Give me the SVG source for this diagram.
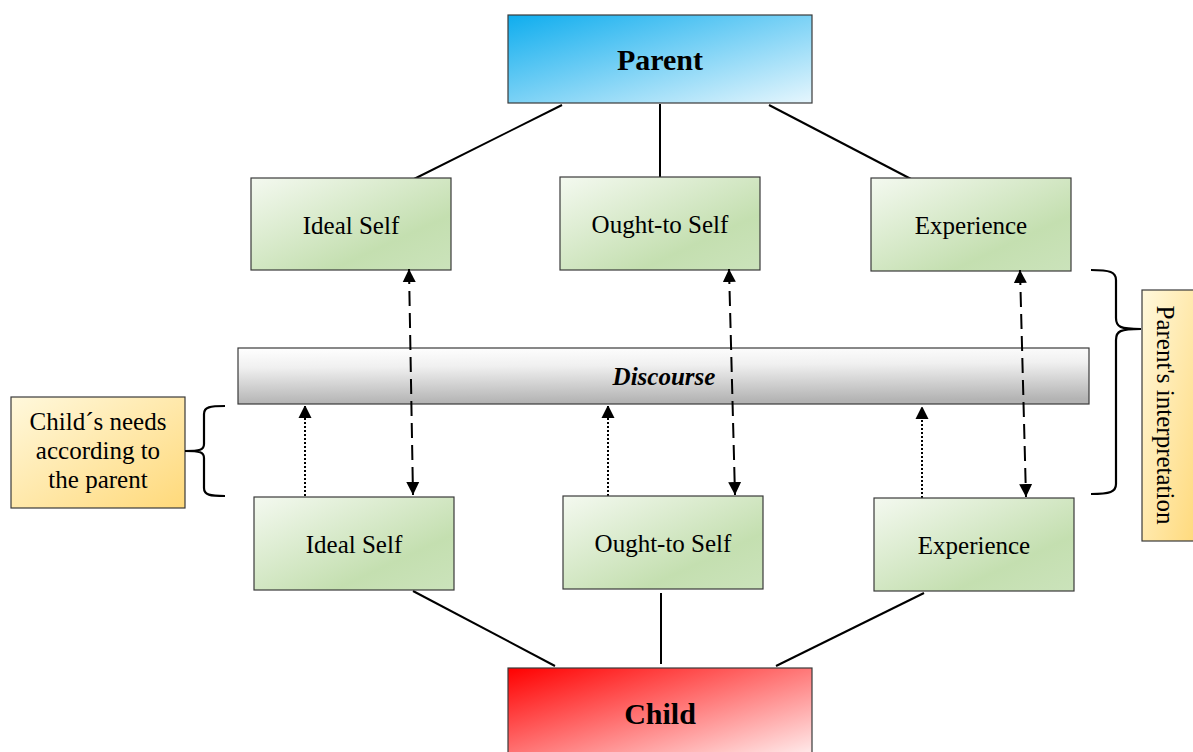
<svg xmlns="http://www.w3.org/2000/svg" width="1193" height="752" viewBox="0 0 1193 752">
<defs>
<linearGradient id="gBlue" x1="0" y1="0" x2="1" y2="1"><stop offset="0" stop-color="#0fadee"/><stop offset="1" stop-color="#e6f6fd"/></linearGradient>
<linearGradient id="gRed" x1="0" y1="0" x2="1" y2="1"><stop offset="0" stop-color="#ff0000"/><stop offset="1" stop-color="#fff0f0"/></linearGradient>
<linearGradient id="gGreen" x1="0" y1="0" x2="1" y2="1"><stop offset="0" stop-color="#f4f9f0"/><stop offset="0.7" stop-color="#c4dfb0"/><stop offset="1" stop-color="#cbe3bb"/></linearGradient>
<linearGradient id="gGray" x1="0" y1="0" x2="0.1" y2="1"><stop offset="0" stop-color="#ffffff"/><stop offset="0.35" stop-color="#f0f0f0"/><stop offset="1" stop-color="#b3b3b3"/></linearGradient>
<linearGradient id="gYellow" x1="0" y1="0" x2="1" y2="1"><stop offset="0" stop-color="#fff8dc"/><stop offset="1" stop-color="#ffd97a"/></linearGradient>
<marker id="arr" viewBox="0 0 12 14" refX="13" refY="7" markerWidth="12" markerHeight="14" markerUnits="userSpaceOnUse" orient="auto-start-reverse"><path d="M0,0.5 L13,7 L0,13.5 Z" fill="#000"/></marker>
</defs>
<style>
.box{stroke:#3a3a3a;stroke-width:1.2}
.t{font-family:"Liberation Serif","Times New Roman",serif;fill:#000;text-anchor:middle}
.g{font-size:25px}
.line{stroke:#000;stroke-width:2;fill:none}
.dash{stroke:#000;stroke-width:2;fill:none;stroke-dasharray:15,7}
.dot{stroke:#000;stroke-width:2;fill:none;stroke-dasharray:2,2}
.brace{stroke:#000;stroke-width:2.2;fill:none}
</style>
<rect width="1193" height="752" fill="#fff"/>
<g id="connectors">
<line class="line" x1="562" y1="105" x2="414" y2="179"/>
<line class="line" x1="660" y1="104" x2="660" y2="177"/>
<line class="line" x1="769" y1="105" x2="911" y2="179"/>
<line class="line" x1="413" y1="591" x2="555" y2="666"/>
<line class="line" x1="661" y1="593" x2="661" y2="664"/>
<line class="line" x1="924" y1="593" x2="776" y2="666"/>
<line class="dot" x1="305" y1="496" x2="305" y2="405" marker-end="url(#arr)"/>
<line class="dot" x1="608" y1="496" x2="608" y2="405" marker-end="url(#arr)"/>
<line class="dot" x1="922" y1="498" x2="922" y2="406" marker-end="url(#arr)"/>
</g>
<g id="parent"><rect class="box" x="508" y="15" width="304" height="88" fill="url(#gBlue)"/><text class="t" x="660" y="70" font-size="30" font-weight="bold">Parent</text></g>
<g id="p-ideal"><rect class="box" x="251" y="178" width="200" height="92" fill="url(#gGreen)"/><text class="t g" x="351" y="234">Ideal Self</text></g>
<g id="p-ought"><rect class="box" x="560" y="177" width="200" height="93" fill="url(#gGreen)"/><text class="t g" x="660" y="233">Ought-to Self</text></g>
<g id="p-exp"><rect class="box" x="871" y="178" width="200" height="93" fill="url(#gGreen)"/><text class="t g" x="971" y="234">Experience</text></g>
<g id="discourse"><rect class="box" x="238" y="348" width="851" height="56" fill="url(#gGray)"/><text class="t" x="664" y="385" font-size="25" font-weight="bold" font-style="italic">Discourse</text></g>
<g id="c-ideal"><rect class="box" x="254" y="497" width="200" height="93" fill="url(#gGreen)"/><text class="t g" x="354" y="553">Ideal Self</text></g>
<g id="c-ought"><rect class="box" x="563" y="496" width="200" height="93" fill="url(#gGreen)"/><text class="t g" x="663" y="552">Ought-to Self</text></g>
<g id="c-exp"><rect class="box" x="874" y="498" width="200" height="93" fill="url(#gGreen)"/><text class="t g" x="974" y="554">Experience</text></g>
<g id="child"><rect class="box" x="508" y="668" width="304" height="90" fill="url(#gRed)"/><text class="t" x="660" y="724" font-size="30" font-weight="bold">Child</text></g>
<g id="dashed-links">
<line class="dash" x1="409" y1="269" x2="413" y2="495" marker-start="url(#arr)" marker-end="url(#arr)"/>
<line class="dash" x1="729" y1="269" x2="735" y2="495" marker-start="url(#arr)" marker-end="url(#arr)"/>
<line class="dash" x1="1020" y1="270" x2="1026" y2="497" marker-start="url(#arr)" marker-end="url(#arr)"/>
</g>
<g id="needs"><rect class="box" x="11" y="397" width="174" height="111" fill="url(#gYellow)"/>
<text class="t g" x="98" y="430">Child´s needs</text><text class="t g" x="98" y="459">according to</text><text class="t g" x="98" y="488">the parent</text></g>
<g id="left-brace"><path class="brace" d="M225,406 C210,406 204,407 204,414 L204,444 C204,450 200,451 185,451 C200,451 204,452 204,458 L204,488 C204,495 210,496 225,496"/></g>
<g id="right-brace"><path class="brace" d="M1091,270 C1110,270 1116,272 1116,280 L1116,318 C1116,327 1120,329 1141,329 C1120,329 1116,331 1116,340 L1116,484 C1116,492 1110,494 1091,494"/></g>
<g id="interp"><rect class="box" x="1142" y="290" width="56" height="251" fill="url(#gYellow)"/>
<text class="t g" transform="translate(1157,415) rotate(90)">Parent's interpretation</text></g>
</svg>
